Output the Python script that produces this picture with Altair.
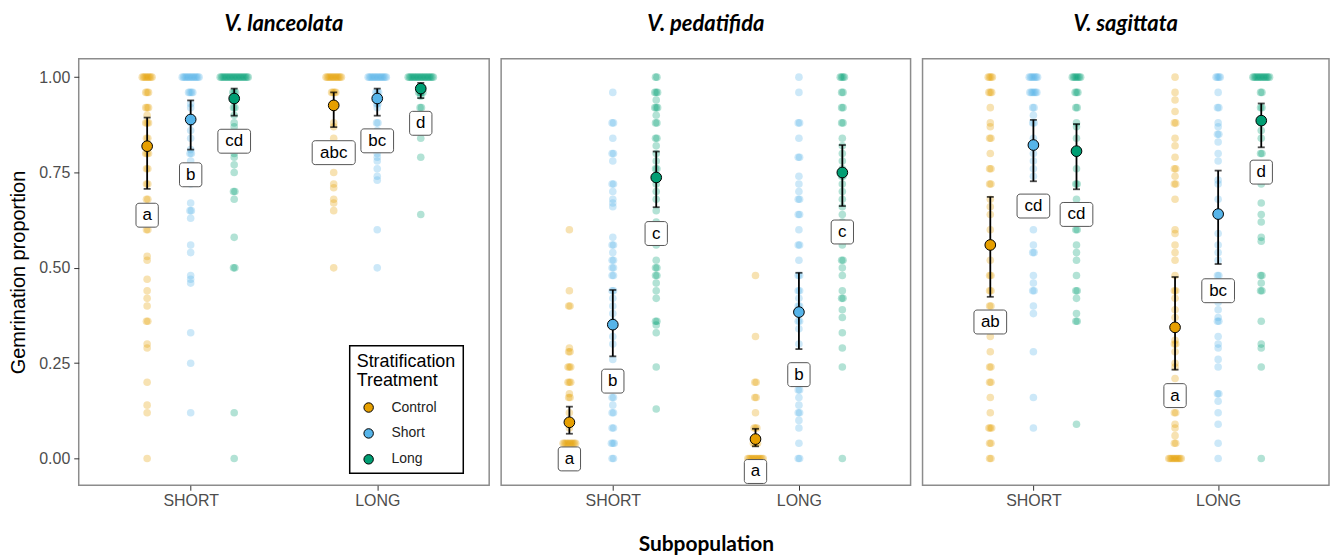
import altair as alt
import pandas as pd

SPECIES = ["V. lanceolata", "V. pedatifida", "V. sagittata"]
SUBPOPS = ["SHORT", "LONG"]
TREATMENTS = ["Control", "Short", "Long"]
COLORS = ["#E69F00", "#56B4E9", "#009E73"]

# ---- individual germination proportions ----
lan_S_control = [1.00]*8 + [0.96]*3 + [0.92]*3 + [0.90] + [0.88]*3 + [0.84]*2 + [0.80]*3 + [0.76]*2 + [0.72]*2 + [0.68]*2 + [0.64] + [0.60]*2 + [0.53, 0.52, 0.47, 0.44, 0.42, 0.40] + [0.36]*2 + [0.30, 0.29, 0.20, 0.14, 0.12, 0.00]
lan_S_short = [1.00]*13 + [0.96]*4 + [0.93, 0.92, 0.88, 0.86, 0.84, 0.81] + [0.80]*2 + [0.78, 0.76, 0.74, 0.72, 0.67] + [0.65]*2 + [0.63, 0.56, 0.54, 0.48, 0.47, 0.46, 0.33, 0.25, 0.12]
lan_S_long = [1.00]*21 + [0.96]*3 + [0.94]*2 + [0.92]*2 + [0.90, 0.88, 0.87] + [0.84]*2 + [0.80, 0.79, 0.77, 0.75] + [0.70]*2 + [0.68, 0.58] + [0.50]*2 + [0.12, 0.00]
lan_L_control = [1.00]*12 + [0.96]*4 + [0.93]*2 + [0.92, 0.88, 0.87, 0.84, 0.82, 0.80, 0.75, 0.72, 0.71, 0.68, 0.67, 0.65, 0.50]
lan_L_short = [1.00]*14 + [0.96]*3 + [0.93]*2 + [0.92] + [0.88]*2 + [0.86, 0.84, 0.82, 0.80, 0.79, 0.78, 0.76, 0.74, 0.73, 0.60, 0.50]
lan_L_long = [1.00]*19 + [0.96]*4 + [0.95] + [0.92]*2 + [0.84, 0.79, 0.64]

ped_S_control = [0.60, 0.44] + [0.40]*2 + [0.29] + [0.28]*2 + [0.24]*3 + [0.20]*3 + [0.17] + [0.16]*2 + [0.12, 0.08] + [0.04]*10 + [0.00]*11
ped_S_short = [0.96] + [0.88]*2 + [0.84] + [0.80]*2 + [0.78] + [0.72]*2 + [0.70, 0.68, 0.67, 0.66, 0.58] + [0.56]*2 + [0.54] + [0.52]*2 + [0.50]*2 + [0.48]*2 + [0.44]*2 + [0.42, 0.40, 0.38, 0.36, 0.32, 0.30, 0.26, 0.22, 0.20] + [0.16]*2 + [0.14] + [0.12]*2 + [0.08]*2 + [0.04]*3 + [0.00]*2
ped_S_long = [1.00]*2 + [0.96]*3 + [0.94] + [0.92]*3 + [0.90] + [0.88]*2 + [0.84]*2 + [0.82, 0.80, 0.78] + [0.76]*2 + [0.74, 0.72, 0.70, 0.68, 0.65, 0.62, 0.60, 0.58, 0.56, 0.52] + [0.50]*2 + [0.48]*2 + [0.46, 0.44, 0.42] + [0.36]*2 + [0.35, 0.33, 0.24, 0.13]
ped_L_control = [0.48, 0.32] + [0.20]*2 + [0.16]*2 + [0.12] + [0.08]*3 + [0.04]*4 + [0.00]*12
ped_L_short = [1.00, 0.96] + [0.88]*2 + [0.84] + [0.79]*2 + [0.74, 0.72, 0.70] + [0.68]*2 + [0.64]*2 + [0.60] + [0.56]*2 + [0.52] + [0.48]*2 + [0.44]*2 + [0.42] + [0.40]*2 + [0.38] + [0.36]*2 + [0.34, 0.30] + [0.18]*2 + [0.16, 0.14] + [0.12]*2 + [0.10, 0.08, 0.04] + [0.00]*2
ped_L_long = [1.00]*4 + [0.96]*2 + [0.92]*2 + [0.88]*2 + [0.84, 0.82, 0.80, 0.78, 0.76] + [0.74]*2 + [0.72, 0.70, 0.68, 0.66, 0.64, 0.62, 0.60, 0.58, 0.56] + [0.52]*2 + [0.50, 0.48, 0.44] + [0.42]*2 + [0.39, 0.37, 0.33, 0.29, 0.24, 0.00]

sag_S_control = [1.00]*4 + [0.96]*3 + [0.92, 0.88, 0.87] + [0.84]*2 + [0.80] + [0.76]*2 + [0.72]*2 + [0.68, 0.66, 0.64, 0.60, 0.56, 0.52] + [0.48]*2 + [0.44]*2 + [0.40]*2 + [0.36, 0.32, 0.28] + [0.24]*2 + [0.20]*2 + [0.16, 0.12] + [0.08]*3 + [0.04]*2 + [0.00]*2
sag_S_short = [1.00]*7 + [0.96]*6 + [0.92]*2 + [0.90] + [0.88]*2 + [0.84, 0.80, 0.78, 0.76, 0.74, 0.68, 0.66, 0.64, 0.60, 0.56] + [0.54]*2 + [0.48, 0.46] + [0.44]*2 + [0.40, 0.38, 0.28, 0.16, 0.08]
sag_S_long = [1.00]*7 + [0.96]*3 + [0.92]*2 + [0.88, 0.87, 0.84, 0.80, 0.76] + [0.72]*2 + [0.68, 0.66, 0.64] + [0.60]*2 + [0.56, 0.54, 0.52, 0.48] + [0.44]*2 + [0.42, 0.38] + [0.36]*2 + [0.09]
sag_L_control = [1.00, 0.96, 0.94, 0.91] + [0.88]*2 + [0.84, 0.82, 0.79] + [0.76]*2 + [0.74] + [0.72]*2 + [0.68, 0.60, 0.59, 0.56, 0.54, 0.52, 0.48] + [0.44]*2 + [0.42, 0.39, 0.37, 0.31] + [0.30]*2 + [0.28, 0.25, 0.24, 0.21] + [0.12]*2 + [0.09, 0.08, 0.06] + [0.04]*2 + [0.00]*10
sag_L_short = [1.00]*4 + [0.96] + [0.92]*2 + [0.88, 0.87] + [0.85]*2 + [0.83, 0.80, 0.78, 0.73, 0.72, 0.68, 0.64, 0.59, 0.56, 0.54, 0.52] + [0.48]*2 + [0.45, 0.43, 0.41, 0.39, 0.37] + [0.36]*2 + [0.32, 0.30, 0.29, 0.26, 0.24] + [0.17]*2 + [0.15, 0.12, 0.09, 0.04, 0.00]
sag_L_long = [1.00]*13 + [0.96]*2 + [0.92]*2 + [0.86, 0.84] + [0.80]*2 + [0.76, 0.74, 0.72, 0.67, 0.64, 0.62, 0.58, 0.57] + [0.48]*2 + [0.46] + [0.44]*2 + [0.36, 0.30, 0.29, 0.24, 0.00]

OBS = [
    [[lan_S_control, lan_S_short, lan_S_long], [lan_L_control, lan_L_short, lan_L_long]],
    [[ped_S_control, ped_S_short, ped_S_long], [ped_L_control, ped_L_short, ped_L_long]],
    [[sag_S_control, sag_S_short, sag_S_long], [sag_L_control, sag_L_short, sag_L_long]],
]

# ---- summary (mean, 95% CI, letters); order: SHORT C/S/L, LONG C/S/L ----
lan_mean = [0.819, 0.889, 0.944, 0.926, 0.944, 0.970]
lan_lo = [0.707, 0.810, 0.899, 0.869, 0.899, 0.945]
lan_hi = [0.894, 0.939, 0.970, 0.960, 0.970, 0.985]
lan_letters = ["a", "b", "cd", "abc", "bc", "d"]
lan_letter_y = [0.638, 0.744, 0.832, 0.802, 0.833, 0.879]

ped_mean = [0.095, 0.351, 0.737, 0.051, 0.384, 0.750]
ped_lo = [0.065, 0.268, 0.659, 0.032, 0.287, 0.662]
ped_hi = [0.136, 0.442, 0.805, 0.078, 0.487, 0.822]
ped_letters = ["a", "b", "c", "a", "b", "c"]
ped_letter_y = [-0.001, 0.203, 0.590, -0.034, 0.220, 0.594]

sag_mean = [0.560, 0.822, 0.806, 0.344, 0.641, 0.886]
sag_lo = [0.424, 0.727, 0.706, 0.233, 0.510, 0.816]
sag_hi = [0.686, 0.888, 0.877, 0.476, 0.755, 0.931]
sag_letters = ["ab", "cd", "cd", "a", "bc", "d"]
sag_letter_y = [0.358, 0.662, 0.640, 0.165, 0.440, 0.751]

SUMM = [
    (lan_mean, lan_lo, lan_hi, lan_letters, lan_letter_y),
    (ped_mean, ped_lo, ped_hi, ped_letters, ped_letter_y),
    (sag_mean, sag_lo, sag_hi, sag_letters, sag_letter_y),
]

DODGE = 0.2333   # dodge spacing between treatments (x units)
SPREAD = 0.0075  # spread of identical values (x units)

obs_rows = []
sum_rows = []
for si, sp in enumerate(SPECIES):
    mean, lo, hi, letters, ly = SUMM[si]
    for pj, sub in enumerate(SUBPOPS):
        for tk, trt in enumerate(TREATMENTS):
            base = (pj + 1) + (tk - 1) * DODGE
            vals = OBS[si][pj][tk]
            counts = {}
            for v in vals:
                counts[v] = counts.get(v, 0) + 1
            seen = {}
            for v in vals:
                r = seen.get(v, 0)
                seen[v] = r + 1
                n = counts[v]
                obs_rows.append(dict(species=sp, subpop=sub, group=trt, value=v,
                                     x=base + (r - (n - 1) / 2) * SPREAD))
            idx = pj * 3 + tk
            sum_rows.append(dict(species=sp, subpop=sub, treatment=trt, x=base,
                                 mean=mean[idx], lo=lo[idx], hi=hi[idx],
                                 letter=letters[idx], ly=ly[idx]))

df_obs = pd.DataFrame(obs_rows)
df_sum = pd.DataFrame(sum_rows)

WIDTHS = [412, 411, 408]
HEIGHT = 428


def panel(i):
    sp = SPECIES[i]
    obs = df_obs[df_obs.species == sp]
    summ = df_sum[df_sum.species == sp]
    xscale = alt.Scale(domain=[0.4, 2.6], nice=False, zero=False)
    yscale = alt.Scale(domain=[-0.07, 1.048], nice=False, zero=False)
    if i == 1:
        xaxis = alt.Axis(values=[1, 2], labelExpr="datum.value == 1 ? 'SHORT' : 'LONG'",
                         title="Subpopulation", titleFont="Lato", titleFontSize=21,
                         titleFontWeight="bold", titleColor="black", titlePadding=26,
                         labelPadding=2)
    else:
        xaxis = alt.Axis(values=[1, 2], labelExpr="datum.value == 1 ? 'SHORT' : 'LONG'",
                         title=None, labelPadding=2)
    if i == 0:
        yaxis = alt.Axis(values=[0, 0.25, 0.5, 0.75, 1.0], format=".2f",
                         title="Gemrination proportion", titleFont="Liberation Sans",
                         titleFontSize=20, titleFontWeight="normal", titleColor="black",
                         titlePadding=10, labelPadding=4)
    else:
        yaxis = None
    pal = alt.Scale(domain=TREATMENTS, range=COLORS)
    X = alt.X("x:Q", scale=xscale, axis=xaxis)

    def Y(field):
        return alt.Y(field, type="quantitative", scale=yscale, axis=yaxis)

    pts = alt.Chart(obs).mark_circle(size=58, opacity=0.3).encode(
        x=X, y=Y("value"),
        fill=alt.Fill("group:N", scale=pal, legend=None),
    )
    rule = alt.Chart(summ).mark_rule(color="black", strokeWidth=1.8).encode(
        x=X, y=Y("lo"), y2="hi:Q")
    cap_lo = alt.Chart(summ).mark_tick(color="black", orient="horizontal", size=7,
                                       thickness=1.8).encode(x=X, y=Y("lo"))
    cap_hi = alt.Chart(summ).mark_tick(color="black", orient="horizontal", size=7,
                                       thickness=1.8).encode(x=X, y=Y("hi"))
    if i == 0:
        legend = alt.Legend(title=["Stratification", "Treatment"], orient="none",
                            legendX=272, legendY=288, titleFont="Liberation Sans",
                            titleFontSize=18, titleFontWeight="normal", titleColor="black",
                            titleLineHeight=19, titlePadding=11,
                            titleAnchor="start", titleAlign="left",
                            labelFont="Liberation Sans", labelFontSize=14,
                            labelColor="#222222", labelOffset=16, symbolOffset=5,
                            symbolType="circle", symbolSize=90,
                            symbolStrokeColor="black", symbolStrokeWidth=1,
                            symbolOpacity=1, rowPadding=12, padding=7,
                            strokeColor="black", fillColor="white")
        mean_enc = dict(color=alt.Color("treatment:N", scale=pal, legend=legend))
    else:
        mean_enc = dict(fill=alt.Fill("treatment:N", scale=pal, legend=None))
    means = alt.Chart(summ).mark_circle(size=115, opacity=1, stroke="black",
                                        strokeWidth=1).encode(
        x=X, y=Y("mean"), **mean_enc)

    boxes = []
    for n in (1, 2, 3):
        hw = 6 + 5.2 * n
        boxes.append(
            alt.Chart(summ).transform_calculate(nchar="length(datum.letter)")
            .transform_filter(f"datum.nchar == {n}")
            .mark_rect(fill="white", stroke="#555555", strokeWidth=1, cornerRadius=3,
                       xOffset=-hw, x2Offset=hw, yOffset=-12, y2Offset=12)
            .encode(x=X, x2="x:Q", y=Y("ly"), y2="ly:Q")
        )
    text = alt.Chart(summ).mark_text(font="Liberation Sans", fontSize=17, color="black",
                                     align="center", baseline="middle").encode(
        x=X, y=Y("ly"), text="letter:N")

    return alt.layer(pts, rule, cap_lo, cap_hi, means, *boxes, text).properties(
        width=WIDTHS[i], height=HEIGHT,
        title=alt.Title(sp, font="Lato", fontSize=22, fontWeight="bold",
                        fontStyle="italic", anchor="middle", frame="group",
                        offset=23, color="black"),
    )


chart = alt.hconcat(panel(0), panel(1), panel(2), spacing=10).resolve_scale(
    fill="independent"
).configure_view(
    stroke="#8c8c8c", strokeWidth=1.5
).configure_axis(
    labelFont="Liberation Sans", labelFontSize=16, labelColor="#4D4D4D",
    tickColor="#333333", tickSize=5, tickWidth=1, domain=False, grid=False
).configure_legend(
    strokeWidth=1.5
).properties(padding={"left": 0, "top": 3, "right": 0, "bottom": 0})

chart.save("out.html", embed_options={"renderer": "svg", "actions": False})
